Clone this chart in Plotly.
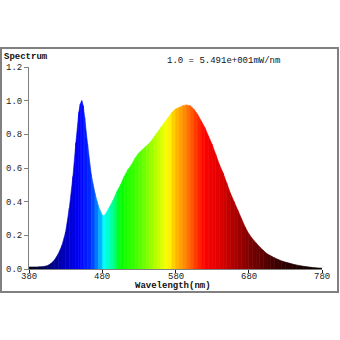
import plotly.graph_objects as go

# ---- data ----
wavelengths = [380, 385, 390, 395, 400, 405, 410, 415, 420, 425, 430, 435, 440, 444, 448, 450, 452,
               454, 456, 460, 465, 470, 475, 480, 482, 485, 490, 495, 500, 505, 510, 515, 520, 525,
               530, 535, 540, 545, 550, 555, 560, 565, 570, 575, 580, 585, 590, 595, 600, 605, 610,
               615, 620, 625, 630, 635, 640, 645, 650, 655, 660, 665, 670, 675, 680, 685, 690, 695,
               700, 705, 710, 715, 720, 725, 730, 735, 740, 745, 750, 755, 760, 765, 770, 775, 780]
spectrum = [0.012, 0.012, 0.012, 0.013, 0.015, 0.020, 0.032, 0.055, 0.090, 0.140, 0.220, 0.360, 0.550,
            0.750, 0.930, 0.980, 1.000, 0.970, 0.900, 0.740, 0.560, 0.450, 0.370, 0.320, 0.315, 0.330,
            0.370, 0.410, 0.460, 0.500, 0.550, 0.590, 0.620, 0.660, 0.690, 0.710, 0.730, 0.750, 0.780,
            0.810, 0.840, 0.870, 0.900, 0.930, 0.950, 0.960, 0.970, 0.975, 0.970, 0.950, 0.920, 0.880,
            0.840, 0.790, 0.740, 0.680, 0.620, 0.570, 0.510, 0.450, 0.400, 0.350, 0.300, 0.250, 0.210,
            0.180, 0.155, 0.130, 0.110, 0.090, 0.078, 0.067, 0.057, 0.048, 0.041, 0.035, 0.029, 0.024,
            0.020, 0.016, 0.013, 0.010, 0.008, 0.006, 0.005]
x_ticks = [380, 480, 580, 680, 780]
y_ticks = [0.0, 0.2, 0.4, 0.6, 0.8, 1.0, 1.2]
y_tick_labels = ["0.0", "0.2", "0.4", "0.6", "0.8", "1.0", "1.2"]
title_text = "Spectrum"
scale_text = "1.0 = 5.491e+001mW/nm"
x_title = "Wavelength(nm)"

# ---- colour mapping (style) ----
color_stops = [(380, (0, 0, 16)), (395, (0, 0, 64)), (410, (0, 0, 128)), (430, (0, 0, 192)),
               (450, (0, 0, 255)), (465, (0, 48, 255)), (475, (0, 144, 255)), (483, (0, 255, 255)),
               (495, (0, 255, 144)), (505, (0, 255, 0)), (535, (96, 255, 0)), (555, (192, 255, 0)),
               (570, (255, 255, 0)), (580, (255, 192, 0)), (595, (255, 128, 0)), (610, (255, 48, 0)),
               (620, (255, 0, 0)), (640, (224, 0, 0)), (680, (128, 0, 0)), (720, (56, 0, 0)),
               (780, (0, 0, 0))]


def wl_color(w):
    for (w0, c0), (w1, c1) in zip(color_stops[:-1], color_stops[1:]):
        if w0 <= w <= w1:
            t = (w - w0) / (w1 - w0)
            r, g, b = (round(a + (bb - a) * t) for a, bb in zip(c0, c1))
            return f"rgb({r},{g},{b})"
    return "rgb(0,0,0)"


fig = go.Figure()
for i in range(len(wavelengths) - 1):
    w0, w1 = wavelengths[i], wavelengths[i + 1]
    v0, v1 = spectrum[i], spectrum[i + 1]
    col = wl_color((w0 + w1) / 2)
    fig.add_trace(go.Scatter(
        x=[w0, w1, w1, w0, w0], y=[v0, v1, 0, 0, v0],
        mode="lines", fill="toself", fillcolor=col,
        line=dict(color=col, width=0.6), hoverinfo="skip", showlegend=False))

font_family = "Liberation Mono, Courier New, monospace"
axis_gray = "#808080"
text_color = "#222222"

annotations = [
    dict(text=title_text, xref="paper", yref="paper", x=-0.092, y=1.0495,
         xanchor="left", yanchor="middle", showarrow=False,
         font=dict(family=font_family, size=9, color="#111111", weight="bold")),
    dict(text=scale_text, xref="paper", yref="paper", x=0.464, y=1.03,
         xanchor="left", yanchor="middle", showarrow=False,
         font=dict(family=font_family, size=9, color="#111111")),
    dict(text=x_title, xref="paper", yref="paper", x=0.49, y=-0.086,
         xanchor="center", yanchor="middle", showarrow=False,
         font=dict(family=font_family, size=9, color="#111111", weight="bold")),
]
for t in x_ticks:
    annotations.append(dict(text=str(t), xref="x", yref="paper", x=t, y=-0.04,
                            xanchor="center", yanchor="middle", showarrow=False,
                            font=dict(family=font_family, size=9, color=text_color)))

fig.update_layout(
    width=340, height=340,
    margin=dict(l=29, r=18, t=67, b=71, autoexpand=False),
    paper_bgcolor="white", plot_bgcolor="white",
    font=dict(family=font_family, size=9, color=text_color),
    xaxis=dict(range=[380, 780], tickvals=x_ticks, showticklabels=False,
               showgrid=False, zeroline=False, showline=True, linecolor=axis_gray, linewidth=1,
               ticks="outside", ticklen=3, tickcolor="#222222", tickwidth=1),
    yaxis=dict(range=[0, 1.2], tickvals=y_ticks, ticktext=y_tick_labels,
               showgrid=False, zeroline=False, showline=True, linecolor=axis_gray, linewidth=1,
               ticks="outside", ticklen=4, tickcolor=axis_gray, tickwidth=1,
               tickfont=dict(family=font_family, size=9, color=text_color)),
    shapes=[dict(type="rect", xref="paper", yref="paper",
                 x0=-0.0956, x1=1.0546, y0=-0.1139, y1=1.094,
                 line=dict(color=axis_gray, width=2), fillcolor="rgba(0,0,0,0)", layer="above")],
    annotations=annotations,
)

fig.write_html("out.html")
